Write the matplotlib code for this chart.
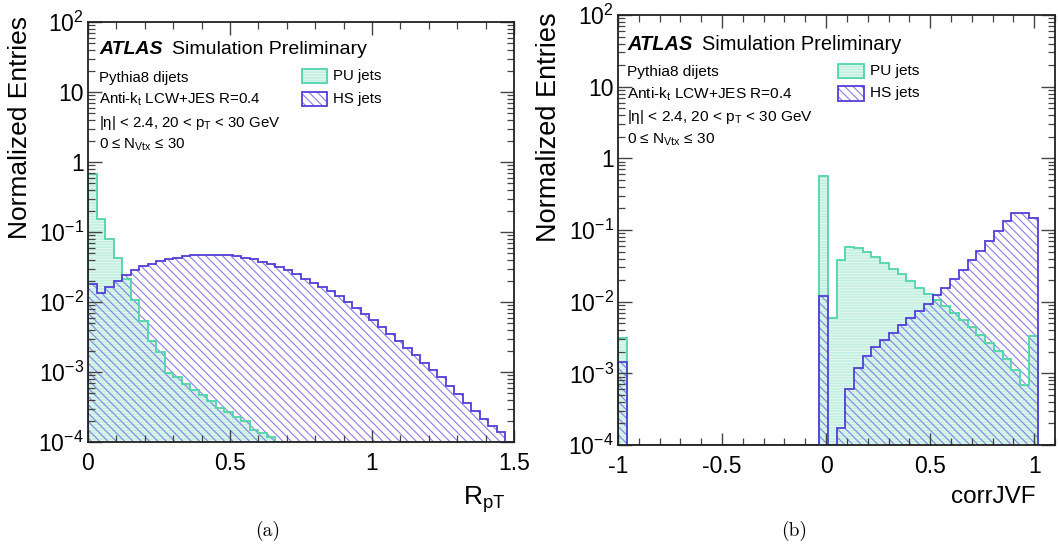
import matplotlib
matplotlib.use("Agg")
import matplotlib.pyplot as plt
import numpy as np
from matplotlib.patches import Rectangle
from matplotlib.ticker import FixedLocator, FixedFormatter, MultipleLocator, LogLocator, NullFormatter

W, H = 1058, 552

# binning (50 bins each)
rpt_edges = np.linspace(0.0, 1.5, 51)
jvf_edges = np.linspace(-1.0, 1.1, 51)

# (a) R_pT
rpt_pu = [0.68, 0.155, 0.080, 0.042, 0.0216, 0.0106, 0.0054, 0.0028, 0.0019, 0.00098,
          0.00085, 0.00068, 0.00056, 0.00047, 0.00038, 0.00031, 0.00027, 0.00023, 0.00020, 0.00015,
          0.000133, 0.000118] + [0.0] * 28
rpt_hs = [0.0183, 0.0134, 0.0164, 0.0200, 0.0240, 0.0282, 0.0322, 0.0353, 0.0380, 0.0410,
          0.0432, 0.0450, 0.0462, 0.0470, 0.0475, 0.0470, 0.0465, 0.0450, 0.0428, 0.0407,
          0.0375, 0.0346, 0.0320, 0.0285, 0.0250, 0.0216, 0.0187, 0.0164, 0.0142, 0.0121,
          0.0100, 0.0083, 0.0068, 0.0055, 0.0044, 0.00354, 0.00275, 0.00223, 0.00173, 0.00135,
          0.00106, 0.00085, 0.000625, 0.00048, 0.00036, 0.000275, 0.00021, 0.000168, 0.000139, 0.0]

# (b) corrJVF
jvf_pu = ([0.00316] + [0.0] * 22 +
          [0.57, 0.006, 0.0385, 0.057, 0.056, 0.050, 0.042, 0.0345, 0.029, 0.0245,
           0.0195, 0.0156, 0.013, 0.0105, 0.00865, 0.0070, 0.0055, 0.0044, 0.0034, 0.00266,
           0.00206, 0.00161, 0.00113, 0.00068, 0.0033, 0.0, 0.0])
jvf_hs = ([0.00142] + [0.0] * 22 +
          [0.0119, 0.0, 0.00017, 0.0006, 0.00117, 0.00177, 0.0023, 0.0029, 0.00367, 0.0047,
           0.0059, 0.0074, 0.0094, 0.0123, 0.0155, 0.021, 0.028, 0.038, 0.0507, 0.070,
           0.0975, 0.133, 0.170, 0.170, 0.145, 0.0, 0.0])

y_ticks = [1e-4, 1e-3, 1e-2, 1e-1, 1, 10, 100]
y_ticklabels = ["$10^{-4}$", "$10^{-3}$", "$10^{-2}$", "$10^{-1}$", "1", "10", "$10^{2}$"]

info_lines = ["Pythia8 dijets",
              r"Anti-k$_{\mathrm{t}}$ LCW+JES R=0.4",
              r"|η| < 2.4, 20 < p$_{\mathrm{T}}$ < 30 GeV",
              r"0 ≤ N$_{\mathrm{Vtx}}$ ≤ 30"]

PU_FILL = "#c4efe0"
PU_STRIPE = "#e2f9f1"
PU_LINE = "#4fd6a6"
HS_HATCH = "#8a7de8"
HS_LINE = "#5040d6"
HS_PATTERN = "\\\\\\\\"
PU_PATTERN = "------"

plt.rcParams["font.family"] = ["Liberation Sans", "DejaVu Sans"]
plt.rcParams["mathtext.fontset"] = "custom"
plt.rcParams["mathtext.rm"] = "Liberation Sans"
plt.rcParams["mathtext.it"] = "Liberation Sans:italic"
plt.rcParams["mathtext.bf"] = "Liberation Sans:bold"
plt.rcParams["hatch.linewidth"] = 0.8


def rect(x0, y0, x1, y1):
    # pixel box -> figure fraction [l, b, w, h]
    return [x0 / W, 1 - y1 / H, (x1 - x0) / W, (y1 - y0) / H]


def fx(x):
    return x / W


def fy(y):
    return 1 - y / H


def draw_hists(ax, edges, pu, hs, ymin=1e-4):
    pu = np.maximum(np.asarray(pu), ymin)
    hs = np.maximum(np.asarray(hs), ymin)
    ax.stairs(pu, edges, baseline=ymin, fill=True, facecolor=PU_FILL,
              edgecolor=PU_STRIPE, hatch=PU_PATTERN, linewidth=0)
    ax.stairs(hs, edges, baseline=ymin, fill=True, facecolor="none",
              edgecolor=HS_HATCH, hatch=HS_PATTERN, linewidth=0)
    ax.stairs(pu, edges, baseline=ymin, color=PU_LINE, linewidth=1.3)
    ax.stairs(hs, edges, baseline=ymin, color=HS_LINE, linewidth=1.3)


def style_axes(ax, xlim, xticks, xticklabels):
    ax.set_yscale("log")
    ax.set_xlim(*xlim)
    ax.set_ylim(1e-4, 1e2)
    ax.xaxis.set_major_locator(FixedLocator(xticks))
    ax.xaxis.set_major_formatter(FixedFormatter(xticklabels))
    ax.xaxis.set_minor_locator(MultipleLocator(0.1))
    ax.yaxis.set_major_locator(FixedLocator(y_ticks))
    ax.yaxis.set_major_formatter(FixedFormatter(y_ticklabels))
    ax.yaxis.set_minor_locator(LogLocator(base=10, subs=range(2, 10), numticks=20))
    ax.yaxis.set_minor_formatter(NullFormatter())
    ax.tick_params(which="both", direction="in", top=True, right=True,
                   color="#444444", labelsize=16.5)
    ax.tick_params(axis="x", which="major", length=9, width=1.0, pad=7)
    ax.tick_params(axis="x", which="minor", length=5, width=0.9)
    ax.tick_params(axis="y", which="major", length=10, width=1.0, pad=3)
    ax.tick_params(axis="y", which="minor", length=5, width=0.9)
    for sp in ax.spines.values():
        sp.set_linewidth(1.3)
        sp.set_color("#222222")


def annotate(fig, x0, ys, s, legend_x, legend_ys, label_x):
    # ys: baselines for ATLAS line + 4 info lines
    fig.text(fx(x0), fy(ys[0]), "ATLAS", fontsize=14 * s, fontweight="bold",
             fontstyle="italic", va="baseline")
    fig.text(fx(x0 + 72.5 * s), fy(ys[0]), "Simulation Preliminary",
             fontsize=14 * s, va="baseline")
    for line, yb in zip(info_lines, ys[1:]):
        fig.text(fx(x0), fy(yb), line, fontsize=10.8 * s, va="baseline")

    bw, bh = 25 * s, 14 * s
    for yc, face, stripe, pattern, edge in [
        (legend_ys[0], PU_FILL, PU_STRIPE, PU_PATTERN, PU_LINE),
        (legend_ys[1], "none", HS_HATCH, HS_PATTERN, HS_LINE),
    ]:
        xy = (fx(legend_x), fy(yc + bh / 2))
        fig.add_artist(Rectangle(xy, bw / W, bh / H, transform=fig.transFigure,
                                 facecolor=face, edgecolor=stripe, hatch=pattern,
                                 linewidth=0))
        fig.add_artist(Rectangle(xy, bw / W, bh / H, transform=fig.transFigure,
                                 facecolor="none", edgecolor=edge, linewidth=1.3))
    fig.text(fx(label_x), fy(legend_ys[0]), "PU jets", fontsize=10.8 * s, va="center")
    fig.text(fx(label_x), fy(legend_ys[1]), "HS jets", fontsize=10.8 * s, va="center")


fig = plt.figure(figsize=(W / 100, H / 100), dpi=100)

ax_a = fig.add_axes(rect(88, 22, 514, 442))
draw_hists(ax_a, rpt_edges, rpt_pu, rpt_hs)
style_axes(ax_a, (0.0, 1.5), [0, 0.5, 1, 1.5], ["0", "0.5", "1", "1.5"])

ax_b = fig.add_axes(rect(618, 15, 1055, 445))
draw_hists(ax_b, jvf_edges, jvf_pu, jvf_hs)
style_axes(ax_b, (-1.0, 1.1), [-1, -0.5, 0, 0.5, 1], ["-1", "-0.5", "0", "0.5", "1"])

# axis titles, ROOT style (right / top aligned)
fig.text(fx(20), fy(16), "Normalized Entries", rotation=90, fontsize=19,
         ha="center", va="top")
fig.text(fx(549), fy(12), "Normalized Entries", rotation=90, fontsize=19.5,
         ha="center", va="top")
fig.text(fx(505), fy(505), r"R$_{\mathrm{pT}}$", fontsize=19, ha="right", va="baseline")
fig.text(fx(1036), fy(503), "corrJVF", fontsize=17.5, ha="right", va="baseline")

annotate(fig, 99, [54.3, 81.7, 104, 126.7, 149], 1.0, 302, [76, 98.5], 333)
annotate(fig, 627, [50, 76, 98.3, 120.7, 144], 1.03, 838, [71, 93.5], 870)

# sub-figure captions
fig.text(fx(268), fy(531), "(a)", fontsize=14, family="cmr10", ha="center", va="center")
fig.text(fx(794), fy(531), "(b)", fontsize=14, family="cmr10", ha="center", va="center")

fig.savefig("out.png", dpi=100)
